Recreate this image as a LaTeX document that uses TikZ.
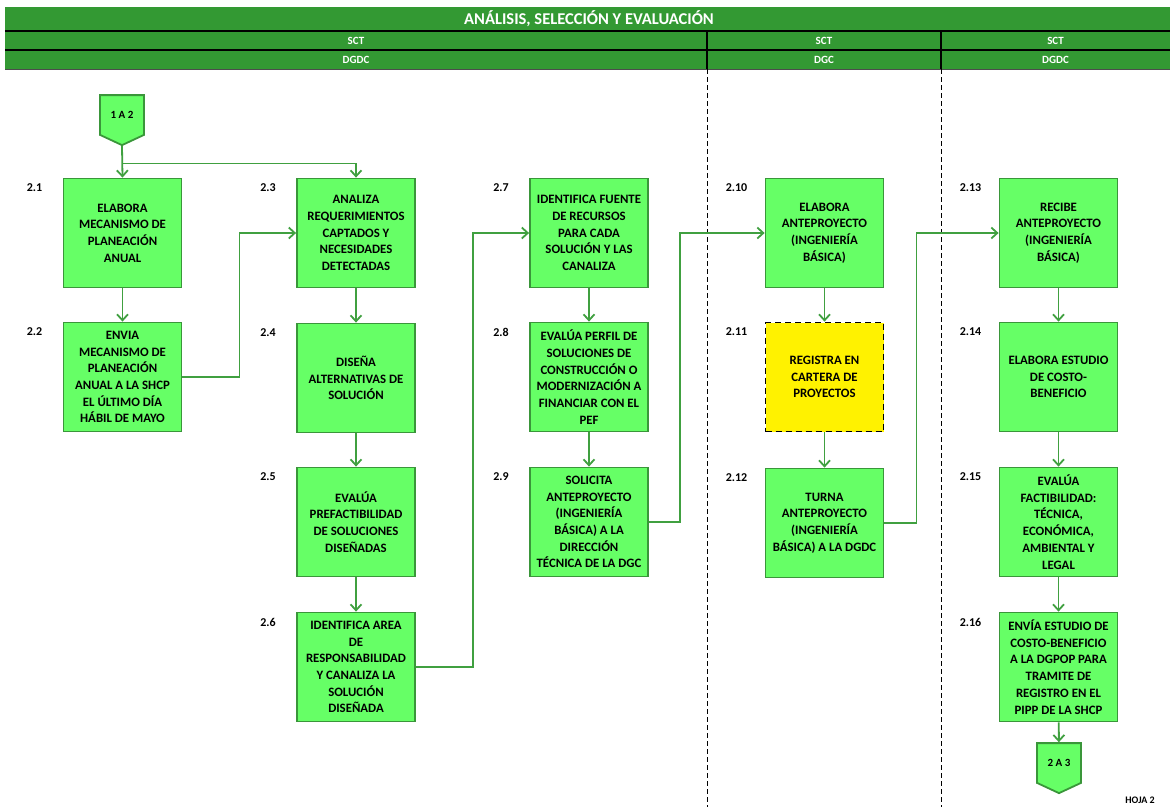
\documentclass[tikz,border=0pt]{standalone}
\usepackage{fontspec}
\setmainfont{Carlito}
\usetikzlibrary{calc,positioning,arrows.meta,shapes.symbols}

\definecolor{hdrgreen}{HTML}{339933}
\definecolor{boxgreen}{HTML}{66FF66}
\definecolor{edgegreen}{HTML}{3A963A}
\definecolor{flowgreen}{HTML}{40A040}

\begin{document}
\begin{tikzpicture}[x=1pt,y=-1pt,
    task/.style={draw=edgegreen, line width=1.8pt, fill=boxgreen, minimum width=118pt, minimum height=109pt,
        align=center, inner sep=2pt, font=\bfseries\fontsize{12.8}{16.7}\selectfont},
    regbox/.style={task, fill=yellow, draw=black, dash pattern=on 6pt off 4pt},
    offpage/.style={signal, signal to=south, signal pointer angle=130, draw=edgegreen, fill=boxgreen,
        line width=1.8pt, minimum width=44pt, minimum height=46pt, inner sep=2pt,
        font=\bfseries\fontsize{11}{13}\selectfont},
    stepno/.style={font=\bfseries\fontsize{12}{14}\selectfont},
    hdr/.style={text=white, font=\bfseries\fontsize{11}{13}\selectfont},
    flow/.style={draw=flowgreen, line width=1.8pt, -{Straight Barb[length=6pt,width=11pt,line width=1.8pt]}},
    lane/.style={line width=0.8pt, dash pattern=on 5pt off 3pt}]
    \useasboundingbox (0,0) rectangle (1173,807);

    \fill[hdrgreen] (5,7) rectangle (1170,69);
    \draw[line width=2pt] (5,31) -- (1170,31);
    \draw[line width=2pt] (5,50) -- (1170,50);
    \draw[line width=0.8pt, black!70] (5,69) -- (1170,69);
    \draw[line width=1.5pt] (707,31) -- (707,69);
    \draw[line width=1.5pt] (941,31) -- (941,69);
    \draw[lane] (707,69) -- (707,807);
    \draw[lane] (941,69) -- (941,807);

    \node[hdr, font=\bfseries\fontsize{16.5}{18}\selectfont] (title) at (589,19) {ANÁLISIS, SELECCIÓN Y EVALUACIÓN};
    \node[hdr] (org1) at (356,41) {SCT};
    \node[hdr] (org2) at (824,41) {SCT};
    \node[hdr] (org3) at (1055.5,41) {SCT};
    \node[hdr] (unit1) at (356,60) {DGDC};
    \node[hdr] (unit2) at (824,60) {DGC};
    \node[hdr] (unit3) at (1055.5,60) {DGDC};

    \node[offpage] (c12) at (122,115) {1 A 2};

    \node[task] (p21) at (122.5,233) {ELABORA\\MECANISMO DE\\PLANEACIÓN\\ANUAL};
    \node[task] (p22) at (122.5,377) {ENVIA\\MECANISMO DE\\PLANEACIÓN\\ANUAL A LA SHCP\\EL ÚLTIMO DÍA\\HÁBIL DE MAYO};
    \node[task] (p23) at (356,233) {ANALIZA\\REQUERIMIENTOS\\CAPTADOS Y\\NECESIDADES\\DETECTADAS};
    \node[task] (p24) at (356,378) {DISEÑA\\ALTERNATIVAS DE\\SOLUCIÓN};
    \node[task] (p25) at (356,522) {EVALÚA\\PREFACTIBILIDAD\\DE SOLUCIONES\\DISEÑADAS};
    \node[task] (p26) at (356,667) {IDENTIFICA AREA\\DE\\RESPONSABILIDAD\\Y CANALIZA LA\\SOLUCIÓN\\DISEÑADA};
    \node[task] (p27) at (589,233) {IDENTIFICA FUENTE\\DE RECURSOS\\PARA CADA\\SOLUCIÓN Y LAS\\CANALIZA};
    \node[task] (p28) at (589,377) {EVALÚA PERFIL DE\\SOLUCIONES DE\\CONSTRUCCIÓN O\\MODERNIZACIÓN A\\FINANCIAR CON EL\\PEF};
    \node[task] (p29) at (589,522) {SOLICITA\\ANTEPROYECTO\\(INGENIERÍA\\BÁSICA) A LA\\DIRECCIÓN\\TÉCNICA DE LA DGC};
    \node[task] (p210) at (824.5,233) {ELABORA\\ANTEPROYECTO\\(INGENIERÍA\\BÁSICA)};
    \node[regbox] (p211) at (824.5,377) {REGISTRA EN\\CARTERA DE\\PROYECTOS};
    \node[task] (p212) at (824.5,523) {TURNA\\ANTEPROYECTO\\(INGENIERÍA\\BÁSICA) A LA DGDC};
    \node[task] (p213) at (1058.5,233) {RECIBE\\ANTEPROYECTO\\(INGENIERÍA\\BÁSICA)};
    \node[task] (p214) at (1058.5,377) {ELABORA ESTUDIO\\DE COSTO-\\BENEFICIO};
    \node[task] (p215) at (1058.5,522) {EVALÚA\\FACTIBILIDAD:\\TÉCNICA,\\ECONÓMICA,\\AMBIENTAL Y\\LEGAL};
    \node[task] (p216) at (1058.5,667) {ENVÍA ESTUDIO DE\\COSTO-BENEFICIO\\A LA DGPOP PARA\\TRAMITE DE\\REGISTRO EN EL\\PIPP DE LA SHCP};

    \node[offpage] (c23) at (1059,763) {2 A 3};

    \foreach \n/\t in {p21/2.1, p22/2.2, p23/2.3, p24/2.4, p25/2.5, p26/2.6, p27/2.7, p28/2.8,
        p29/2.9, p210/2.10, p211/2.11, p212/2.12, p213/2.13, p214/2.14, p215/2.15, p216/2.16}
        \node[stepno] (l\n) at ([xshift=-88pt,yshift=45pt]\n.center) {\t};

    \node[font=\bfseries\fontsize{10}{12}\selectfont] (sheet) at (1140,800) {HOJA 2};

    \coordinate (split) at ($(c12.south)!0.55!(p21.north)$);
    \draw[flow] (c12.south) -- (p21.north);
    \draw[flow] (split) -| (p23.north);
    \draw[flow] (p21) -- (p22);
    \draw[flow] (p22.east) -- ++(57,0) |- (p23.west);
    \draw[flow] (p23) -- (p24);
    \draw[flow] (p24) -- (p25);
    \draw[flow] (p25) -- (p26);
    \draw[flow] (p26.east) -- ++(57,0) |- (p27.west);
    \draw[flow] (p27) -- (p28);
    \draw[flow] (p28) -- (p29);
    \draw[flow] (p29.east) -- ++(31,0) |- (p210.west);
    \draw[flow] (p210) -- (p211);
    \draw[flow] (p211) -- (p212);
    \draw[flow] (p212.east) -- ++(32,0) |- (p213.west);
    \draw[flow] (p213) -- (p214);
    \draw[flow] (p214) -- (p215);
    \draw[flow] (p215) -- (p216);
    \draw[flow] (p216) -- (c23);
\end{tikzpicture}
\end{document}
